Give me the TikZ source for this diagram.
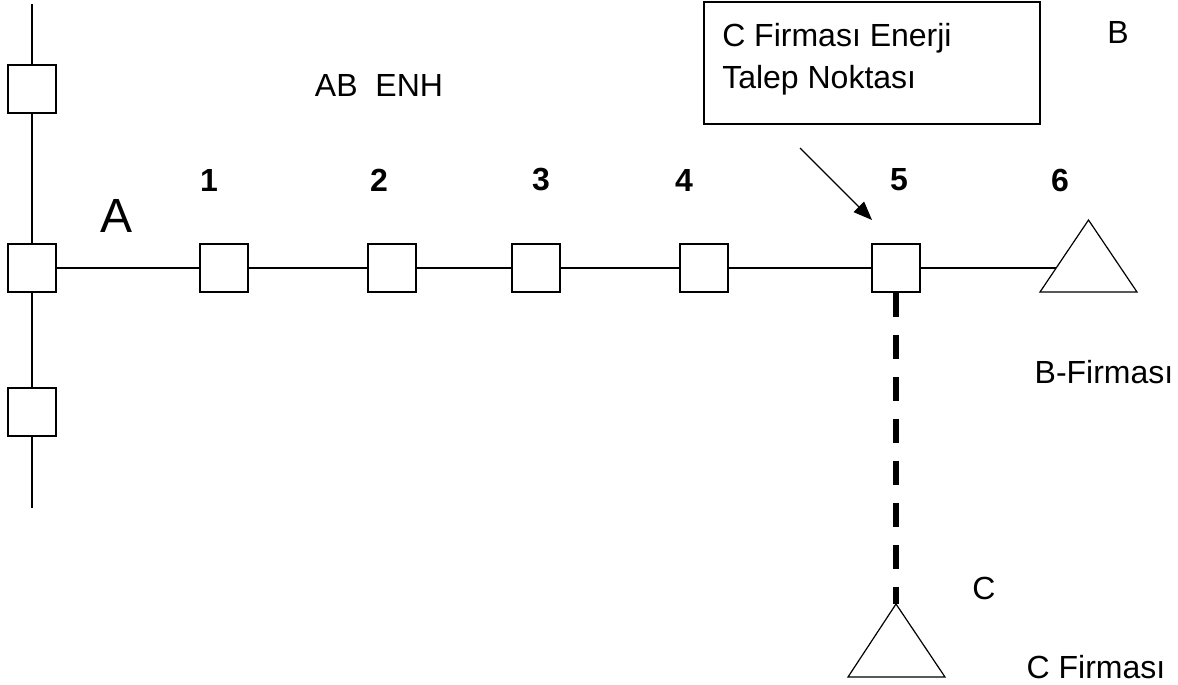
\documentclass[tikz,border=0pt]{standalone}
\usepackage{fontspec}
\setmainfont{Liberation Sans}
\usetikzlibrary{arrows.meta,shapes.geometric}
\tikzset{x=0.75pt,y=-0.75pt,
 busbox/.style={draw,fill=white,line width=0.9pt,minimum size=36pt,inner sep=0pt},
 tri/.style={draw,line width=0.9pt,fill=white},
 wire/.style={line width=0.9pt},
 lbl/.style={inner sep=0pt,font=\fontsize{24pt}{29pt}\selectfont},
 num/.style={inner sep=0pt,font=\fontsize{24pt}{29pt}\selectfont\bfseries}}
\begin{document}
\begin{tikzpicture}
\useasboundingbox (0,0) rectangle (1178,685);
\coordinate (top) at (32,4);
\coordinate (bot) at (32,508);
\draw[wire] (top) -- (bot);
\node[busbox] (n0) at (32,89) {};
\node[busbox] (a) at (32,268) {};
\node[busbox] (n7) at (32,412) {};
\node[busbox] (b1) at (224,268) {};
\node[busbox] (b2) at (392,268) {};
\node[busbox] (b3) at (536,268) {};
\node[busbox] (b4) at (704,268) {};
\node[busbox] (b5) at (896,268) {};
\coordinate (t6) at (1057,268);
\draw[wire] (a) -- (b1);
\draw[wire] (b1) -- (b2);
\draw[wire] (b2) -- (b3);
\draw[wire] (b3) -- (b4);
\draw[wire] (b4) -- (b5);
\draw[wire] (b5) -- (t6);
\draw[tri] (1088.5,220) -- (1137,292) -- (1040,292) -- cycle;
\coordinate (tc) at (896,604);
\draw[tri] (tc) -- (945,677) -- (848,677) -- cycle;
\draw[line width=4.5pt,dash pattern=on 18pt off 13.5pt] (b5.south) -- (tc);
\node[draw,line width=0.9pt,minimum width=252pt,minimum height=91.5pt] (box) at (872,63) {};
\node[lbl,anchor=west,align=left,font=\fontsize{24pt}{31.5pt}\selectfont] (boxt) at (722,59) {C Firması Enerji\\Talep Noktası};
\coordinate (as) at (800,148);
\coordinate (ae) at (872,220);
\draw[wire,-{Triangle[length=14pt,width=11pt]}] (as) -- (ae);
\node[lbl] (ab) at (379,85) {AB\ \ ENH};
\node[lbl] (lb) at (1118,32) {B};
\node[inner sep=0pt,font=\fontsize{36pt}{40pt}\selectfont] (la) at (117,216) {A};
\node[num] (l1) at (209,180) {1};
\node[num] (l2) at (379,180) {2};
\node[num] (l3) at (541,180) {3};
\node[num] (l4) at (684,180) {4};
\node[num] (l5) at (899,180) {5};
\node[num] (l6) at (1060,180) {6};
\node[lbl] (bf) at (1104,372) {B-Firması};
\node[lbl] (lc) at (984,588) {C};
\node[lbl] (cf) at (1096,667) {C Firması};
\end{tikzpicture}
\end{document}
